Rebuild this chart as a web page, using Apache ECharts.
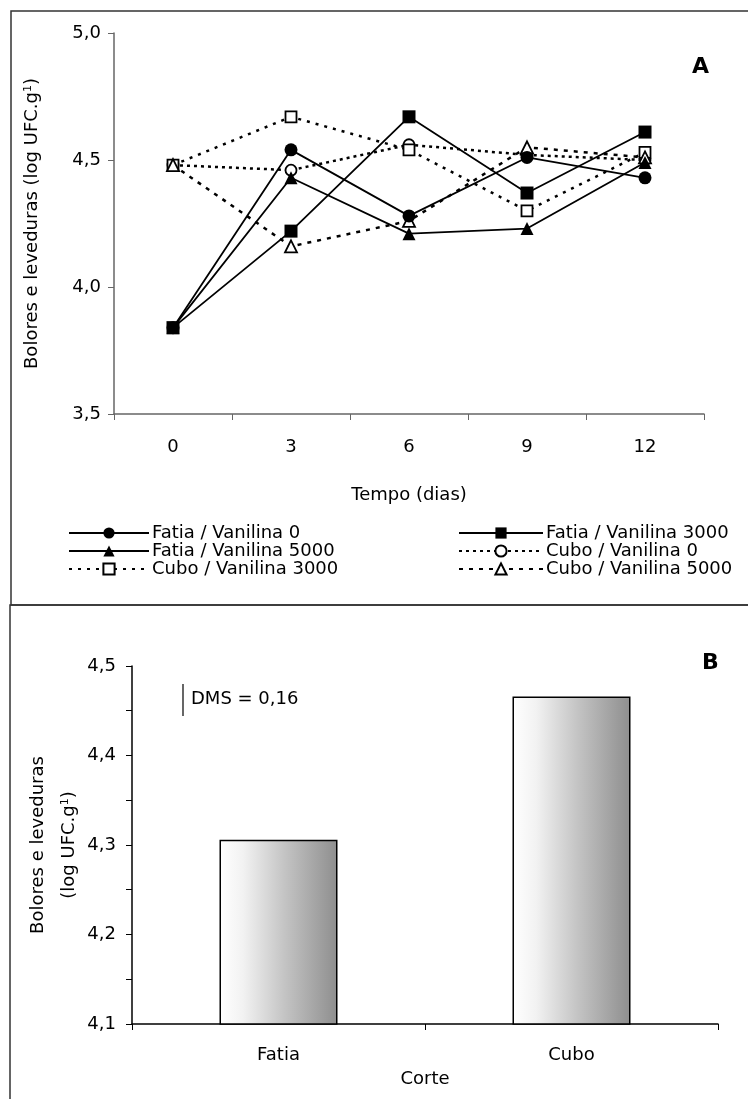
<!DOCTYPE html>
<html>
<head>
<meta charset="utf-8">
<script src="https://cdn.jsdelivr.net/npm/echarts@6/dist/echarts.min.js"></script>
<style>
  html, body { margin: 0; padding: 0; background: #fff; }
  #chart { width: 748px; height: 1099px; }
</style>
</head>
<body>
<div id="chart"></div>
<script>
// Painel A - bolores e leveduras ao longo do tempo
const days = ["0", "3", "6", "9", "12"];
const fatia0 = [3.84, 4.54, 4.28, 4.51, 4.43];
const fatia3000 = [3.84, 4.22, 4.67, 4.37, 4.61];
const fatia5000 = [3.84, 4.43, 4.21, 4.23, 4.49];
const cubo0 = [4.48, 4.46, 4.56, 4.52, 4.50];
const cubo3000 = [4.48, 4.67, 4.54, 4.30, 4.53];
const cubo5000 = [4.48, 4.16, 4.26, 4.55, 4.51];

// Painel B - média por tipo de corte
const cortes = ["Fatia", "Cubo"];
const corteValues = [4.306, 4.466];

const FONT = "DejaVu Sans";
const comma = v => v.toFixed(1).replace(".", ",");

const solid = (name, data, symbol, size) => ({
  name: name,
  type: "line",
  data: data,
  symbol: symbol,
  symbolSize: size,
  showSymbol: true,
  itemStyle: { color: "#000" },
  lineStyle: { color: "#000", width: 1.8 },
  z: 3
});

const dotted = (name, data, symbol, size, dash) => ({
  name: name,
  type: "line",
  data: data,
  symbol: symbol,
  symbolSize: size,
  showSymbol: true,
  itemStyle: { color: "#fff", borderColor: "#000", borderWidth: 1.8 },
  lineStyle: { color: "#000", width: 2.5, type: dash },
  z: 2
});

const barGradient = new echarts.graphic.LinearGradient(0, 0, 1, 0, [
  { offset: 0, color: "#ffffff" },
  { offset: 0.2, color: "#f2f2f2" },
  { offset: 0.55, color: "#c4c4c4" },
  { offset: 1, color: "#8e8e8e" }
]);

const option = {
  animation: false,
  textStyle: { fontFamily: FONT, color: "#000" },
  grid: [
    { left: 114, right: 44, top: 33, bottom: 685 },
    { left: 132, right: 30, top: 666, bottom: 75 }
  ],
  xAxis: [
    {
      gridIndex: 0,
      type: "category",
      data: days,
      boundaryGap: true,
      name: "Tempo (dias)",
      nameLocation: "middle",
      nameGap: 72,
      nameTextStyle: { fontSize: 18, fontFamily: FONT, color: "#000" },
      axisLine: { lineStyle: { color: "#666", width: 1.5 } },
      axisTick: { show: true, length: 6, lineStyle: { color: "#666" } },
      axisLabel: { fontSize: 18, margin: 24, color: "#000", fontFamily: FONT }
    },
    {
      gridIndex: 1,
      type: "category",
      data: cortes,
      boundaryGap: true,
      name: "Corte",
      nameLocation: "middle",
      nameGap: 46,
      nameTextStyle: { fontSize: 18, fontFamily: FONT, color: "#000" },
      axisLine: { lineStyle: { color: "#000", width: 1.5 } },
      axisTick: { show: true, length: 6, lineStyle: { color: "#000" } },
      axisLabel: { fontSize: 18, margin: 22, color: "#000", fontFamily: FONT }
    }
  ],
  yAxis: [
    {
      gridIndex: 0,
      type: "value",
      min: 3.5,
      max: 5.0,
      interval: 0.5,
      name: "{t|Bolores e leveduras (log UFC.g}{s|1}{t|)}",
      nameLocation: "middle",
      nameGap: 72,
      nameTextStyle: {
        rich: {
          t: { fontSize: 18, fontFamily: FONT, color: "#000" },
          s: { fontSize: 11, fontFamily: FONT, color: "#000", verticalAlign: "top", padding: [0, 0, 8, 0] }
        }
      },
      axisLine: { show: true, lineStyle: { color: "#666", width: 1.5 } },
      axisTick: { show: true, length: 6, lineStyle: { color: "#666" } },
      splitLine: { show: false },
      axisLabel: { fontSize: 18, margin: 13, color: "#000", fontFamily: FONT, formatter: comma }
    },
    {
      gridIndex: 1,
      type: "value",
      min: 4.1,
      max: 4.5,
      interval: 0.1,
      name: "{t|Bolores e leveduras}\n{t|(log UFC.g}{s|1}{t|)}",
      nameLocation: "middle",
      nameGap: 47,
      nameMoveOverlap: false,
      nameTextStyle: {
        lineHeight: 31,
        rich: {
          t: { fontSize: 18, fontFamily: FONT, color: "#000", lineHeight: 31 },
          s: { fontSize: 11, fontFamily: FONT, color: "#000", lineHeight: 31, padding: [0, 0, 8, 0] }
        }
      },
      axisLine: { show: true, lineStyle: { color: "#000", width: 1.5 } },
      axisTick: { show: true, length: 6, lineStyle: { color: "#000" } },
      minorTick: { show: true, splitNumber: 2, length: 6, lineStyle: { color: "#000" } },
      splitLine: { show: false },
      axisLabel: { fontSize: 18, margin: 16, color: "#000", fontFamily: FONT, formatter: comma }
    }
  ],
  legend: [
    {
      left: 63,
      top: 519,
      orient: "vertical",
      itemWidth: 80,
      itemHeight: 14,
      itemGap: 0,
      selectedMode: false,
      textStyle: { fontSize: 18, fontFamily: FONT, color: "#000", lineHeight: 18, padding: [0, 0, 0, -2] },
      data: ["Fatia / Vanilina 0", "Fatia / Vanilina 5000", "Cubo / Vanilina 3000"]
    },
    {
      left: 453,
      top: 519,
      orient: "vertical",
      itemWidth: 84,
      itemHeight: 14,
      itemGap: 0,
      selectedMode: false,
      textStyle: { fontSize: 18, fontFamily: FONT, color: "#000", lineHeight: 18, padding: [0, 0, 0, -2] },
      data: ["Fatia / Vanilina 3000", "Cubo / Vanilina 0", "Cubo / Vanilina 5000"]
    }
  ],
  series: [
    solid("Fatia / Vanilina 0", fatia0, "circle", 13),
    solid("Fatia / Vanilina 3000", fatia3000, "rect", 13),
    solid("Fatia / Vanilina 5000", fatia5000, "triangle", 13),
    dotted("Cubo / Vanilina 0", cubo0, "circle", 11, [3, 4]),
    dotted("Cubo / Vanilina 3000", cubo3000, "rect", 11, [3, 6]),
    dotted("Cubo / Vanilina 5000", cubo5000, "triangle", 12, [4, 6]),
    {
      name: "Corte",
      type: "bar",
      xAxisIndex: 1,
      yAxisIndex: 1,
      data: corteValues,
      barWidth: 118,
      itemStyle: { color: barGradient, borderColor: "#000", borderWidth: 1.5 }
    }
  ],
  graphic: [
    // moldura do painel A
    { type: "rect", shape: { x: 11, y: 11, width: 760, height: 594 }, style: { fill: null, stroke: "#333", lineWidth: 1.5 }, silent: true },
    // moldura do painel B
    { type: "polyline", shape: { points: [[10, 1100], [10, 605], [760, 605]] }, style: { fill: null, stroke: "#333", lineWidth: 1.5 }, silent: true },
    { type: "text", left: 692, top: 56, style: { text: "A", font: "bold 22px " + FONT, fill: "#000" } },
    { type: "text", left: 702, top: 652, style: { text: "B", font: "bold 22px " + FONT, fill: "#000" } },
    // barra da DMS
    { type: "line", shape: { x1: 183, y1: 684, x2: 183, y2: 716 }, style: { stroke: "#000", lineWidth: 1.2 } },
    { type: "text", left: 191, top: 690, style: { text: "DMS = 0,16", font: "18px " + FONT, fill: "#000" } }
  ]
};

const chart = echarts.init(document.getElementById("chart"));
chart.setOption(option);
</script>
</body>
</html>
